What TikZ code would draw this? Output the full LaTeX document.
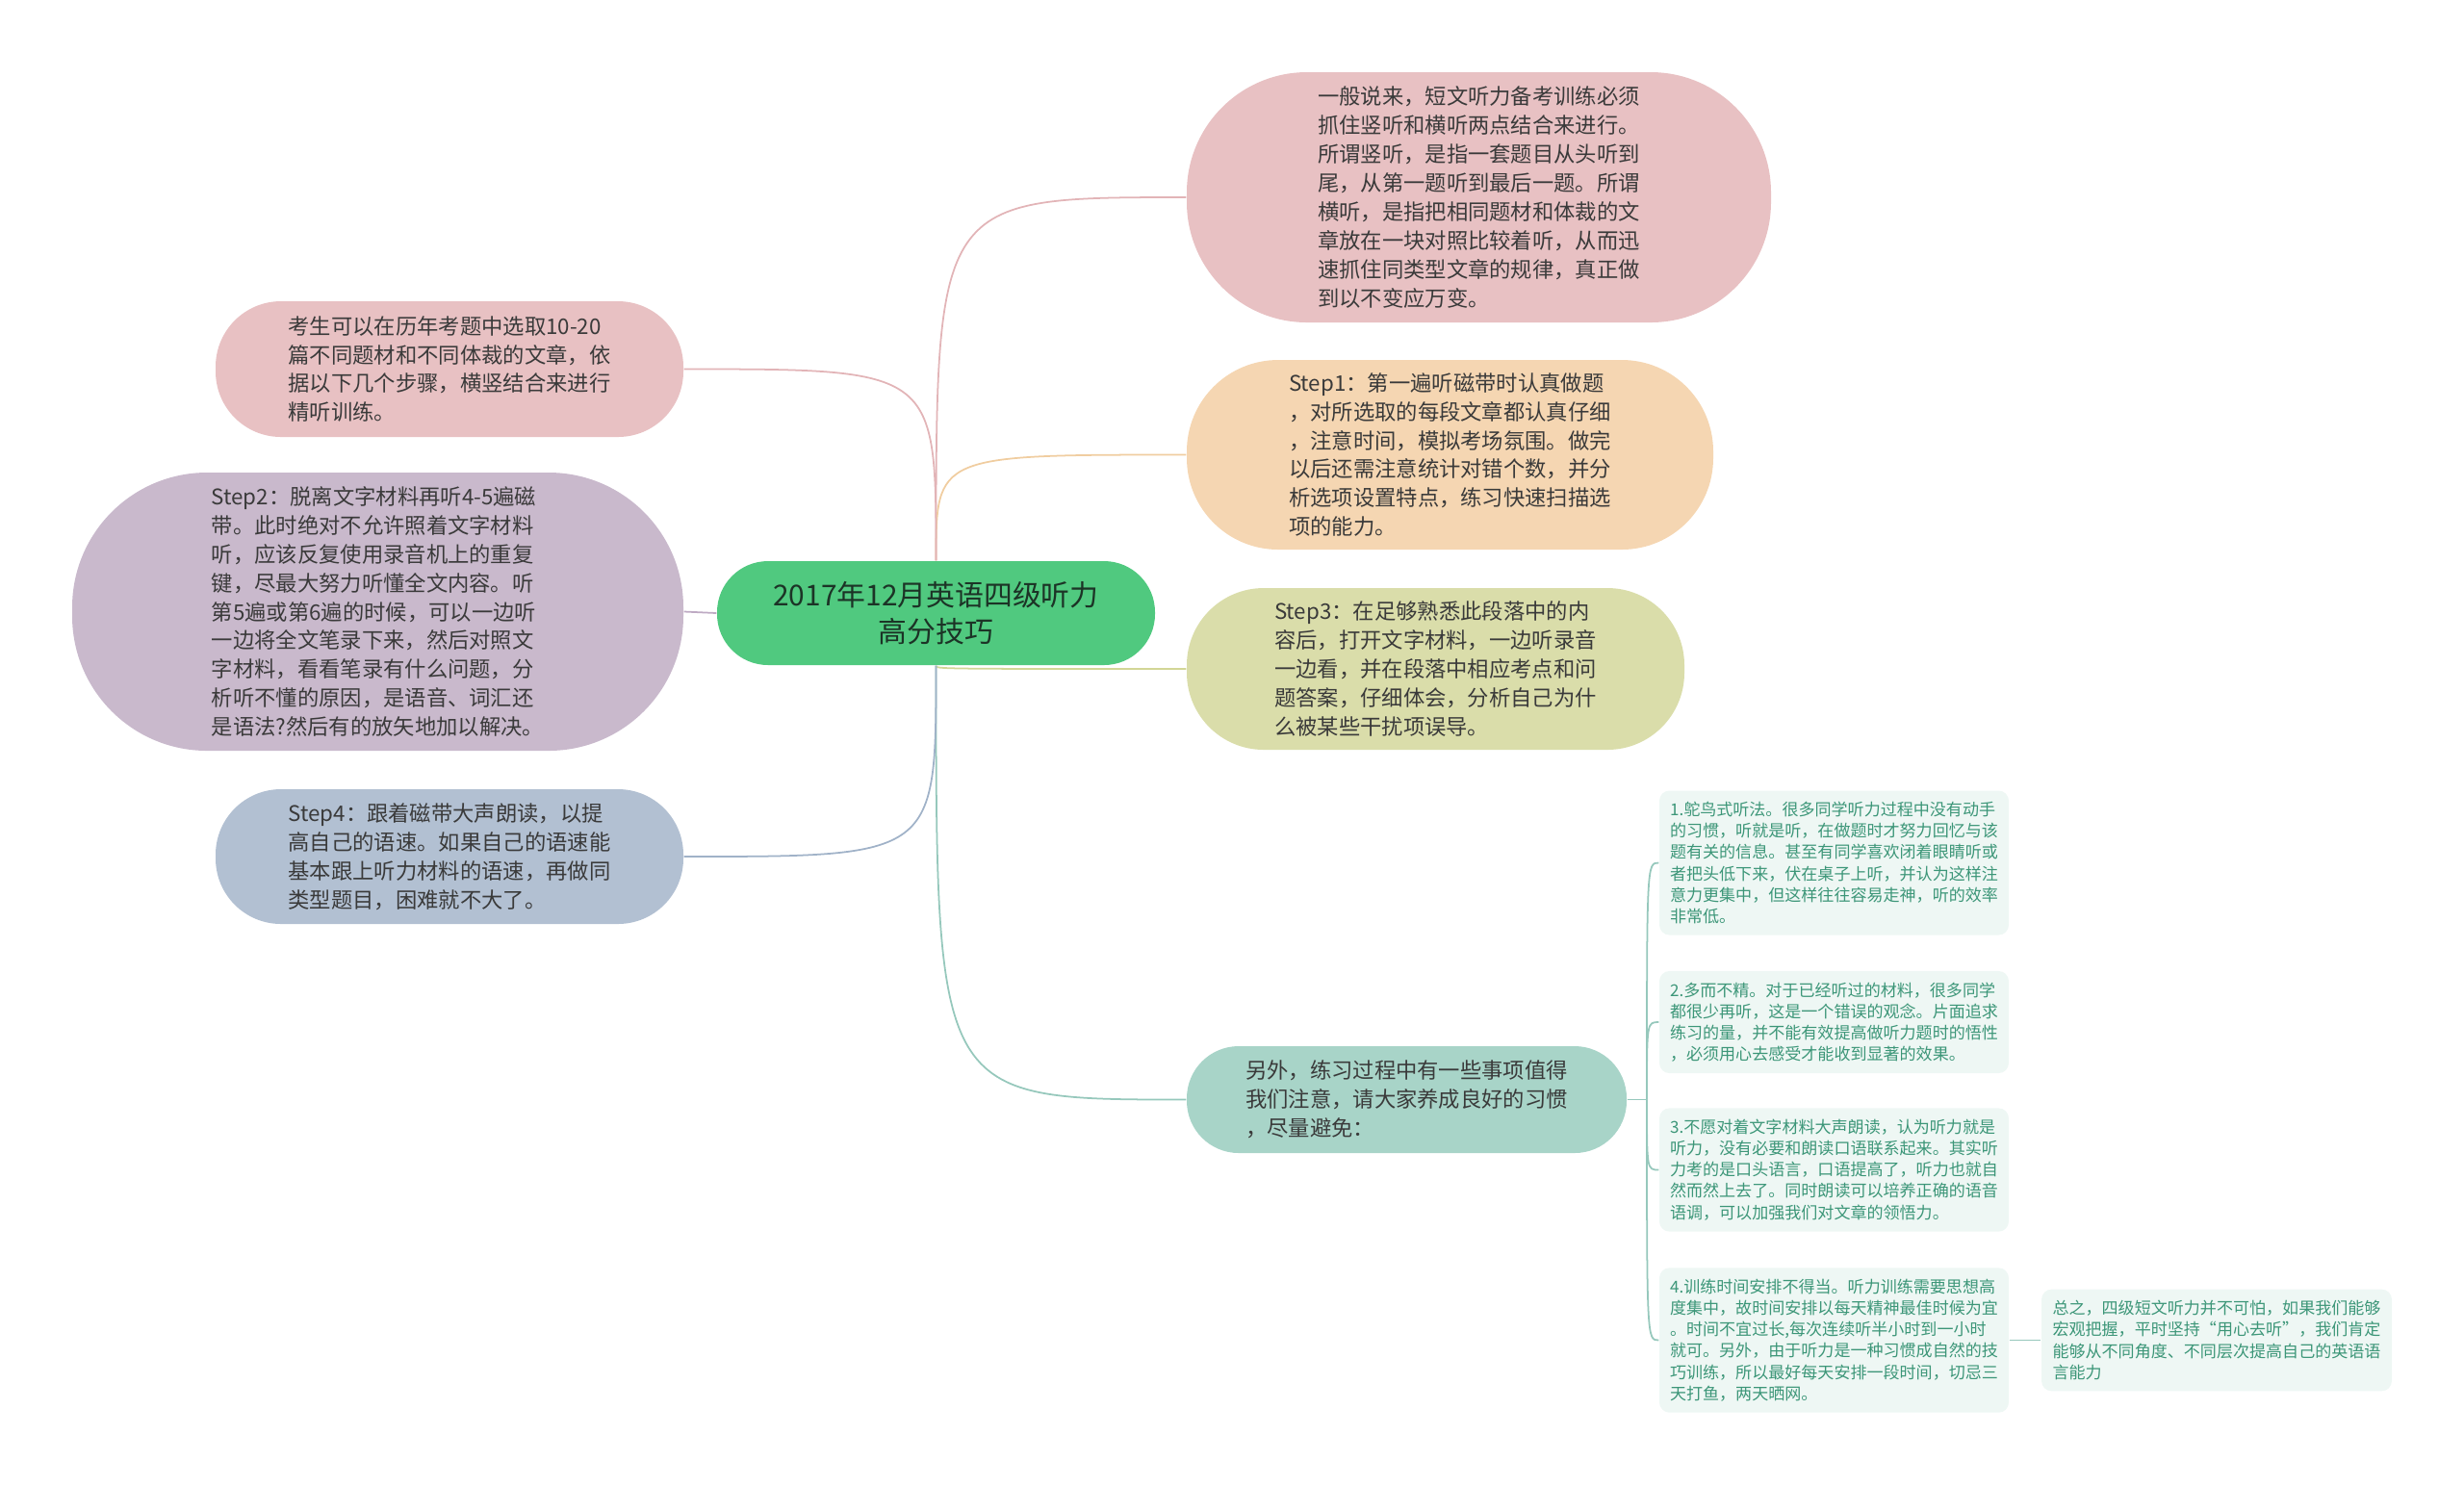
\documentclass[tikz,border=0pt]{standalone}
\usepackage{fontspec}
\newfontfamily\cjk{Noto Sans CJK SC}
\definecolor{rootfill}{HTML}{50C97F}
\definecolor{rootink}{HTML}{1C3326}
\definecolor{ink}{HTML}{3A3A3A}
\definecolor{pinkfill}{HTML}{E8C1C3}
\definecolor{orangefill}{HTML}{F5D6B2}
\definecolor{olivefill}{HTML}{DADDAA}
\definecolor{tealfill}{HTML}{A8D4C8}
\definecolor{purplefill}{HTML}{C9B9CC}
\definecolor{bluefill}{HTML}{B2C0D2}
\definecolor{notefill}{HTML}{EEF7F4}
\definecolor{noteink}{HTML}{3C9678}
\definecolor{pinkline}{HTML}{E2B4B7}
\definecolor{orangeline}{HTML}{F0CDA0}
\definecolor{oliveline}{HTML}{D2D696}
\definecolor{tealline}{HTML}{96C8BC}
\definecolor{purpleline}{HTML}{BEAAC3}
\definecolor{blueline}{HTML}{A0B2C8}
\tikzset{
  topic/.style={fill=rootfill,text=rootink,rounded corners=0.53cm,minimum width=4.55cm,minimum height=1.08cm,align=center,font=\cjk\fontsize{8.5}{10.9}\selectfont},
  bubble/.style={text=ink,align=left,font=\cjk\fontsize{6.35}{8.5}\selectfont},
  note/.style={fill=notefill,text=noteink,rounded corners=3pt,minimum width=3.63cm,inner xsep=0.05cm,align=left,font=\cjk\fontsize{4.85}{6.3}\selectfont},
  link/.style={line width=0.5pt}
}
\begin{document}
\begin{tikzpicture}
        \useasboundingbox (0,0) rectangle (25.6,-15.43);
        %% Root
        \node[topic] (root) at (9.725,-6.37) {2017年12月英语四级听力\\高分技巧};
        %% Right branches
        \node[bubble,fill=pinkfill,minimum width=6.07cm,minimum height=2.6cm,rounded corners=1.25cm] (method) at (15.365,-2.05) {一般说来，短文听力备考训练必须\\抓住竖听和横听两点结合来进行。\\所谓竖听，是指一套题目从头听到\\尾，从第一题听到最后一题。所谓\\横听，是指把相同题材和体裁的文\\章放在一块对照比较着听，从而迅\\速抓住同类型文章的规律，真正做\\到以不变应万变。};
        \node[bubble,fill=orangefill,minimum width=5.47cm,minimum height=1.97cm,rounded corners=0.95cm] (stepone) at (15.065,-4.725) {Step1：第一遍听磁带时认真做题\\，对所选取的每段文章都认真仔细\\，注意时间，模拟考场氛围。做完\\以后还需注意统计对错个数，并分\\析选项设置特点，练习快速扫描选\\项的能力。};
        \node[bubble,fill=olivefill,minimum width=5.17cm,minimum height=1.68cm,rounded corners=0.8cm] (stepthree) at (14.915,-6.95) {Step3：在足够熟悉此段落中的内\\容后，打开文字材料，一边听录音\\一边看，并在段落中相应考点和问\\题答案，仔细体会，分析自己为什\\么被某些干扰项误导。};
        \node[bubble,fill=tealfill,minimum width=4.57cm,minimum height=1.11cm,rounded corners=0.54cm] (other) at (14.615,-11.425) {另外，练习过程中有一些事项值得\\我们注意，请大家养成良好的习惯\\，尽量避免：};
        %% Left branches
        \node[bubble,fill=pinkfill,minimum width=4.86cm,minimum height=1.41cm,rounded corners=0.68cm] (plan) at (4.67,-3.835) {考生可以在历年考题中选取10-20\\篇不同题材和不同体裁的文章，依\\据以下几个步骤，横竖结合来进行\\精听训练。};
        \node[bubble,fill=purplefill,minimum width=6.35cm,minimum height=2.89cm,rounded corners=1.4cm] (steptwo) at (3.925,-6.355) {Step2：脱离文字材料再听4-5遍磁\\带。此时绝对不允许照着文字材料\\听，应该反复使用录音机上的重复\\键，尽最大努力听懂全文内容。听\\第5遍或第6遍的时候，可以一边听\\一边将全文笔录下来，然后对照文\\字材料，看看笔录有什么问题，分\\析听不懂的原因，是语音、词汇还\\是语法?然后有的放矢地加以解决。};
        \node[bubble,fill=bluefill,minimum width=4.86cm,minimum height=1.40cm,rounded corners=0.68cm] (stepfour) at (4.67,-8.90) {Step4：跟着磁带大声朗读，以提\\高自己的语速。如果自己的语速能\\基本跟上听力材料的语速，再做同\\类型题目，困难就不大了。};
        %% Habits
        \node[note,minimum height=1.47cm] (habit1) at (19.055,-8.965) {1.鸵鸟式听法。很多同学听力过程中没有动手\\的习惯，听就是听，在做题时才努力回忆与该\\题有关的信息。甚至有同学喜欢闭着眼睛听或\\者把头低下来，伏在桌子上听，并认为这样注\\意力更集中，但这样往往容易走神，听的效率\\非常低。};
        \node[note,minimum height=1.02cm] (habit2) at (19.055,-10.62) {2.多而不精。对于已经听过的材料，很多同学\\都很少再听，这是一个错误的观念。片面追求\\练习的量，并不能有效提高做听力题时的悟性\\，必须用心去感受才能收到显著的效果。};
        \node[note,minimum height=1.25cm] (habit3) at (19.055,-12.155) {3.不愿对着文字材料大声朗读，认为听力就是\\听力，没有必要和朗读口语联系起来。其实听\\力考的是口头语言，口语提高了，听力也就自\\然而然上去了。同时朗读可以培养正确的语音\\语调，可以加强我们对文章的领悟力。};
        \node[note,minimum height=1.47cm] (habit4) at (19.055,-13.925) {4.训练时间安排不得当。听力训练需要思想高\\度集中，故时间安排以每天精神最佳时候为宜\\。时间不宜过长,每次连续听半小时到一小时\\就可。另外，由于听力是一种习惯成自然的技\\巧训练，所以最好每天安排一段时间，切忌三\\天打鱼，两天晒网。};
        \node[note,minimum width=3.64cm,minimum height=1.05cm] (summary) at (23.03,-13.925) {总之，四级短文听力并不可怕，如果我们能够\\宏观把握，平时坚持“用心去听”，我们肯定\\能够从不同角度、不同层次提高自己的英语语\\言能力};
        %% Links
        \draw[link,draw=pinkline] (root.north) .. controls (root.north |- method.west) .. (method.west);
        \draw[link,draw=orangeline] (root.north) .. controls (root.north |- stepone.west) .. (stepone.west);
        \draw[link,draw=oliveline] (root.south) .. controls (root.south |- stepthree.west) .. (stepthree.west);
        \draw[link,draw=tealline] (root.south) .. controls (root.south |- other.west) .. (other.west);
        \draw[link,draw=pinkline] (plan.east) .. controls (root.north |- plan.east) .. (root.north);
        \draw[link,draw=purpleline] (steptwo.east) -- (root.west);
        \draw[link,draw=blueline] (stepfour.east) .. controls (root.south |- stepfour.east) .. (root.south);
        \coordinate (hub) at (17.11,-11.425);
        \draw[link,draw=tealline] (other.east) -- (hub);
        \foreach \b in {habit1,habit2,habit3,habit4}
          \draw[link,draw=tealline] (hub) .. controls (hub |- \b.west) .. (\b.west);
        \draw[link,draw=tealline] (habit4.east) -- (summary.west);
\end{tikzpicture}
\end{document}
